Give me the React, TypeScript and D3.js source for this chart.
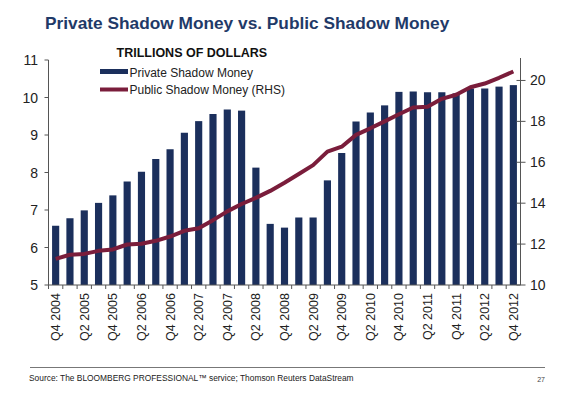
import { line, scaleBand, scaleLinear } from "d3";

const quarters = [
  "Q4 2004", "Q1 2005", "Q2 2005", "Q3 2005", "Q4 2005", "Q1 2006", "Q2 2006",
  "Q3 2006", "Q4 2006", "Q1 2007", "Q2 2007", "Q3 2007", "Q4 2007", "Q1 2008",
  "Q2 2008", "Q3 2008", "Q4 2008", "Q1 2009", "Q2 2009", "Q3 2009", "Q4 2009",
  "Q1 2010", "Q2 2010", "Q3 2010", "Q4 2010", "Q1 2011", "Q2 2011", "Q3 2011",
  "Q4 2011", "Q1 2012", "Q2 2012", "Q3 2012", "Q4 2012",
];

// trillions, left axis
const privateShadow = [
  6.58, 6.78, 6.99, 7.19, 7.39, 7.76, 8.02, 8.36, 8.62, 9.06, 9.37, 9.56, 9.68,
  9.65, 8.13, 6.63, 6.53, 6.8, 6.8, 7.79, 8.52, 9.36, 9.6, 9.79, 10.15, 10.16,
  10.14, 10.14, 10.11, 10.24, 10.24, 10.29, 10.33,
];

// trillions, right axis
const publicShadow = [
  11.28, 11.48, 11.52, 11.67, 11.74, 11.98, 12.02, 12.16, 12.37, 12.65, 12.77,
  13.17, 13.6, 13.96, 14.26, 14.6, 15.0, 15.43, 15.86, 16.52, 16.76, 17.34,
  17.66, 18.0, 18.35, 18.68, 18.71, 19.1, 19.3, 19.67, 19.85, 20.13, 20.44,
];

const leftTicks = [5, 6, 7, 8, 9, 10, 11];
const rightTicks = [10, 12, 14, 16, 18, 20];

const FONT = "'Liberation Sans', Arial, sans-serif";
const NAVY = "#1b2f5c";
const MAROON = "#7a1d3b";

export default function App() {
  const left = 48.5;
  const right = 520.5;
  const top = 60;
  const bottom = 285;

  const x = scaleBand<string>()
    .domain(quarters)
    .range([left, right])
    .paddingInner(0.5)
    .paddingOuter(0.25);
  const yL = scaleLinear().domain([5, 11]).range([bottom, top]);
  const yR = scaleLinear().domain([10, 21]).range([bottom, top]);
  const bw = x.bandwidth();
  const step = x.step();
  const cx = (q: string) => (x(q) ?? 0) + bw / 2;

  const path = line<number>()
    .x((_, i) => cx(quarters[i]))
    .y((d) => yR(d))(publicShadow);

  return (
    <svg
      width={562}
      height={394}
      style={{ position: "absolute", left: 0, top: 0, background: "#fff" }}
      fontFamily={FONT}
    >
      <text x={45} y={29} fontSize={17.3} fontWeight="bold" fill="#1f3a68">
        Private Shadow Money vs. Public Shadow Money
      </text>

      {privateShadow.map((v, i) => (
        <rect
          key={quarters[i]}
          x={x(quarters[i])}
          y={yL(v)}
          width={bw}
          height={bottom - yL(v)}
          fill={NAVY}
        />
      ))}

      <path d={path ?? ""} fill="none" stroke={MAROON} strokeWidth={4} strokeLinejoin="round" />

      {/* left axis */}
      <line x1={left} x2={left} y1={top} y2={bottom} stroke="#555" />
      {leftTicks.map((t) => (
        <g key={`l${t}`}>
          <line x1={left - 4} x2={left} y1={yL(t)} y2={yL(t)} stroke="#555" />
          <text x={38} y={yL(t) + 5} fontSize={14} textAnchor="end" fill="#222">
            {t}
          </text>
        </g>
      ))}

      {/* right axis */}
      <line x1={right} x2={right} y1={top - 2} y2={bottom} stroke="#555" />
      {rightTicks.map((t) => (
        <g key={`r${t}`}>
          <line x1={right - 4} x2={right + 5} y1={yR(t)} y2={yR(t)} stroke="#555" />
          <text x={530} y={yR(t) + 5} fontSize={14} fill="#222">
            {t}
          </text>
        </g>
      ))}

      {/* bottom axis */}
      <line x1={left} x2={right} y1={bottom} y2={bottom} stroke="#555" />
      {quarters.map((q) => (
        <line
          key={`t${q}`}
          x1={(x(q) ?? 0) + bw / 2 - step / 2}
          x2={(x(q) ?? 0) + bw / 2 - step / 2}
          y1={bottom}
          y2={bottom + 4}
          stroke="#555"
        />
      ))}
      {quarters.map((q, i) =>
        i % 2 === 0 ? (
          <text
            key={`x${q}`}
            transform={`translate(${cx(q) + 4.5},${bottom + 8}) rotate(-90)`}
            fontSize={12.5}
            textAnchor="end"
            fill="#222"
          >
            {q}
          </text>
        ) : null
      )}

      {/* legend */}
      <text x={116.5} y={56.5} fontSize={12.5} fontWeight="bold" fill="#111">
        TRILLIONS OF DOLLARS
      </text>
      <rect x={100} y={69} width={28} height={5} fill={NAVY} />
      <text x={129.5} y={76.5} fontSize={12} fill="#222">
        Private Shadow Money
      </text>
      <line x1={100} x2={128} y1={89.5} y2={89.5} stroke={MAROON} strokeWidth={4} />
      <text x={129.5} y={93.5} fontSize={12} fill="#222">
        Public Shadow Money (RHS)
      </text>

      {/* footer */}
      <line x1={30} x2={545} y1={367.5} y2={367.5} stroke="#777" strokeWidth={1} />
      <text x={29} y={381} fontSize={8.4} fill="#222">
        Source: The BLOOMBERG PROFESSIONAL™ service; Thomson Reuters DataStream
      </text>
      <text x={545} y={382} fontSize={7} textAnchor="end" fill="#444">
        27
      </text>
    </svg>
  );
}
